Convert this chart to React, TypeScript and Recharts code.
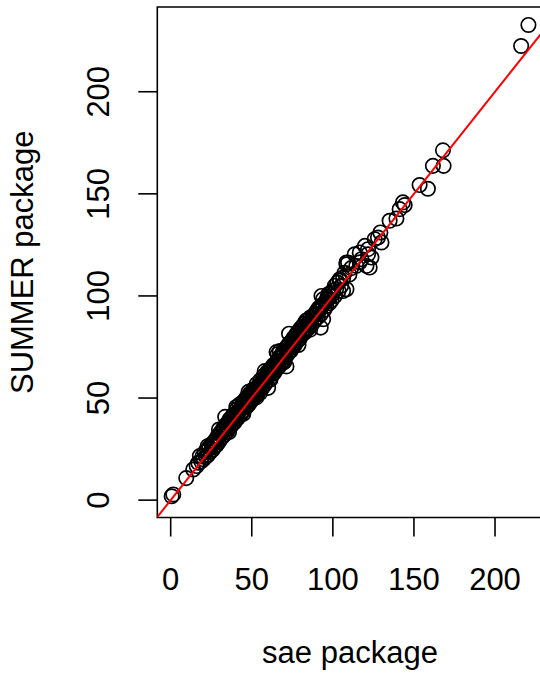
import React from "react";
import { ScatterChart, Scatter, XAxis, YAxis, ReferenceArea } from "recharts";

// area estimates from the two packages, one entry per area (sae on x, SUMMER on y)
const saeEstimates = [
  0.6, 1.6, 9.6, 13.9, 16.0, 17.0, 18.0, 18.8, 19.6, 20.3, 21.1, 21.7, 22.4, 23.0,
  23.8, 24.5, 25.1, 25.8, 26.4, 27.0, 27.7, 28.3, 28.9, 29.6, 30.2, 30.8, 31.4, 32.0,
  32.5, 33.1, 33.6, 34.2, 34.8, 35.3, 35.9, 36.4, 37.0, 37.5, 38.1, 38.6, 39.2, 39.7,
  40.2, 40.8, 41.3, 41.9, 42.4, 42.9, 43.5, 44.0, 44.6, 45.1, 45.6, 46.2, 46.7, 47.2,
  47.8, 48.3, 48.8, 49.4, 49.9, 50.4, 51.0, 51.5, 52.0, 52.6, 53.1, 53.6, 54.2, 54.7,
  55.2, 55.8, 56.3, 56.8, 57.4, 57.9, 58.4, 59.0, 59.5, 60.1, 60.6, 61.1, 61.7, 62.2,
  62.7, 63.3, 63.8, 64.3, 64.9, 65.3, 65.8, 66.4, 66.9, 67.3, 67.5, 68.0, 68.6, 69.1,
  69.7, 70.2, 70.7, 71.4, 71.3, 71.8, 72.4, 72.9, 73.5, 74.0, 73.0, 74.6, 75.1, 75.7,
  76.2, 76.8, 77.3, 77.9, 78.4, 79.0, 79.5, 80.1, 80.6, 81.2, 81.7, 82.3, 82.8, 83.4,
  83.9, 84.5, 85.0, 85.8, 86.3, 86.9, 87.8, 88.3, 88.9, 89.5, 90.1, 90.8, 92.5, 91.4,
  91.9, 92.6, 93.0, 93.4, 94.0, 94.0, 94.7, 95.4, 96.0, 96.6, 97.2, 97.9, 98.5, 99.2,
  100.0, 101.2, 101.2, 102.0, 102.8, 103.5, 104.3, 104.3, 105.2, 106.3, 106.4, 107.2,
  108.4, 108.4, 108.4, 109.4, 110.2, 111.3, 113.5, 114.5, 116.6, 116.6, 117.6, 119.8,
  120.7, 121.7, 121.7, 122.7, 123.8, 125.8, 127.8, 129.3, 130.0, 135.0, 139.2, 141.2,
  143.2, 144.3, 153.5, 158.6, 161.7, 168.3, 167.9, 216.1, 220.6,
  25.5, 27.5, 29.0, 31.0, 32.8, 34.5, 36.2, 37.8, 39.5, 41.0, 42.7, 44.3, 45.9, 47.5,
  49.1, 50.7, 52.3, 53.9, 55.5, 57.1, 58.7, 60.3, 61.9, 63.5, 65.1, 66.7, 68.3, 69.9,
  71.5, 73.1, 74.7, 76.3, 77.9, 79.5, 81.1, 82.7, 84.3, 85.9, 87.5, 89.1, 90.7, 92.3,
  93.9, 95.5, 97.1, 98.7,
  29.8, 36.0, 44.8, 48.0, 52.8, 58.0, 61.5, 70.0, 78.8, 86.0, 22.8, 40.5, 55.0, 66.0,
];

const summerEstimates = [
  1.9, 2.8, 10.8, 15.0, 16.7, 18.3, 21.6, 19.0, 21.4, 20.0, 23.5, 21.2, 24.6, 22.1,
  25.9, 23.7, 27.3, 24.6, 28.2, 26.1, 29.6, 27.0, 31.2, 28.4, 32.6, 29.9, 33.8, 31.1,
  35.2, 32.0, 40.8, 36.9, 33.5, 38.1, 35.2, 39.6, 36.1, 40.2, 37.4, 41.8, 38.0, 42.3,
  39.6, 44.5, 40.1, 43.2, 46.8, 41.5, 45.9, 43.2, 48.1, 44.0, 47.3, 45.5, 50.2, 46.1,
  49.4, 47.0, 52.1, 48.5, 51.6, 49.2, 54.3, 50.6, 53.7, 51.4, 56.9, 52.0, 55.8, 53.9,
  58.6, 54.5, 57.7, 55.3, 60.9, 56.6, 59.8, 58.1, 62.7, 55.0, 61.3, 63.9, 60.2, 64.8,
  61.9, 66.1, 62.4, 65.7, 64.0, 72.5, 68.2, 65.1, 69.7, 73.0, 66.2, 70.9, 67.8, 72.3,
  68.4, 73.1, 70.0, 65.5, 74.6, 71.2, 75.9, 72.5, 77.0, 73.1, 81.5, 77.8, 74.9, 79.3,
  75.6, 80.4, 77.1, 81.7, 78.3, 82.9, 79.0, 84.1, 80.7, 85.0, 81.6, 86.3, 82.2, 87.8,
  83.5, 88.2, 84.3, 87.0, 89.6, 86.0, 90.2, 87.4, 91.0, 88.9, 92.7, 89.6, 84.5, 94.1,
  94.3, 91.0, 100.0, 95.5, 98.4, 88.6, 93.2, 96.9, 95.1, 99.3, 100.8, 96.5, 101.4, 97.9,
  102.6, 104.9, 100.0, 103.3, 106.5, 102.4, 108.2, 107.4, 105.0, 102.4, 109.0, 111.3,
  103.3, 116.4, 115.5, 116.4, 110.5, 113.6, 120.4, 114.7, 116.5, 121.3, 118.0, 124.5,
  114.7, 122.9, 120.4, 113.9, 118.8, 127.8, 128.6, 131.1, 126.2, 136.8, 137.9, 142.5,
  145.8, 144.5, 154.3, 152.5, 163.7, 163.7, 171.3, 222.4, 232.7,
  26.9, 28.6, 30.7, 32.2, 34.1, 35.6, 37.9, 39.0, 41.2, 42.1, 44.3, 45.5, 47.8, 48.6,
  50.9, 51.8, 54.5, 55.1, 57.2, 58.3, 60.6, 61.5, 63.7, 64.6, 66.9, 67.8, 70.2, 71.0,
  73.3, 74.2, 76.4, 77.5, 79.6, 80.6, 83.0, 83.8, 86.1, 87.2, 89.3, 90.5, 92.4, 93.6,
  95.8, 97.0, 98.9, 99.8,
  34.6, 33.4, 42.3, 53.0, 50.3, 63.2, 59.0, 67.6, 76.0, 83.5, 26.4, 45.6, 52.4, 71.5,
];

const axisTicks = [0, 50, 100, 150, 200];

// R pads the data range by 4% on each side
const X_DOMAIN: [number, number] = [-8.25, 229.4];
const Y_DOMAIN: [number, number] = [-8.5, 241.5];

const points = saeEstimates.map((x, i) => ({ x, y: summerEstimates[i] }));
const identityLine = [
  { x: X_DOMAIN[0], y: X_DOMAIN[0] },
  { x: X_DOMAIN[1], y: X_DOMAIN[1] },
];

const FONT = "'Liberation Sans', Arial, Helvetica, sans-serif";
const FONT_SIZE = 31;

const OpenCircle = (props: any) => (
  <circle cx={props.cx} cy={props.cy} r={7.2} fill="none" stroke="#000" strokeWidth={1.7} />
);

const XTick = ({ x, y, payload }: any) => (
  <text x={x} y={y + 51} textAnchor="middle" fontFamily={FONT} fontSize={FONT_SIZE} fill="#000">
    {payload.value}
  </text>
);

const YTick = ({ x, y, payload }: any) => {
  const bx = x - 27;
  return (
    <text
      x={bx}
      y={y}
      transform={`rotate(-90, ${bx}, ${y})`}
      textAnchor="middle"
      fontFamily={FONT}
      fontSize={FONT_SIZE}
      fill="#000"
    >
      {payload.value}
    </text>
  );
};

export default function App() {
  return (
    <div
      style={{
        position: "absolute",
        left: 0,
        top: 0,
        width: 540,
        height: 673,
        overflow: "hidden",
        background: "#fff",
      }}
    >
      <ScatterChart width={560} height={673} margin={{ top: 7, right: 17.3, bottom: 0, left: 0 }}>
        <XAxis
          type="number"
          dataKey="x"
          domain={X_DOMAIN}
          ticks={axisTicks}
          allowDataOverflow
          height={155.5}
          tickSize={19}
          tickLine={{ stroke: "#000", strokeWidth: 1.6 }}
          axisLine={false}
          tick={<XTick />}
          label={{
            content: ({ viewBox }: any) => (
              <text
                x={viewBox.x + viewBox.width / 2}
                y={viewBox.y + 145.5}
                textAnchor="middle"
                fontFamily={FONT}
                fontSize={FONT_SIZE}
                fill="#000"
              >
                sae package
              </text>
            ),
          }}
        />
        <YAxis
          type="number"
          dataKey="y"
          domain={Y_DOMAIN}
          ticks={axisTicks}
          allowDataOverflow
          width={157.3}
          tickSize={19}
          tickLine={{ stroke: "#000", strokeWidth: 1.6 }}
          axisLine={false}
          tick={<YTick />}
          label={{
            content: ({ viewBox }: any) => {
              const cy = viewBox.y + viewBox.height / 2;
              return (
                <text
                  x={33}
                  y={cy}
                  transform={`rotate(-90, 33, ${cy})`}
                  textAnchor="middle"
                  fontFamily={FONT}
                  fontSize={FONT_SIZE}
                  fill="#000"
                >
                  SUMMER package
                </text>
              );
            },
          }}
        />
        <Scatter data={points} shape={<OpenCircle />} isAnimationActive={false} />
        <Scatter
          data={identityLine}
          line={{ stroke: "#ff0000", strokeWidth: 2 }}
          shape={() => <g />}
          isAnimationActive={false}
        />
        <ReferenceArea
          x1={X_DOMAIN[0]}
          x2={X_DOMAIN[1]}
          y1={Y_DOMAIN[0]}
          y2={Y_DOMAIN[1]}
          fill="none"
          stroke="#000"
          strokeWidth={1.6}
        />
      </ScatterChart>
    </div>
  );
}
